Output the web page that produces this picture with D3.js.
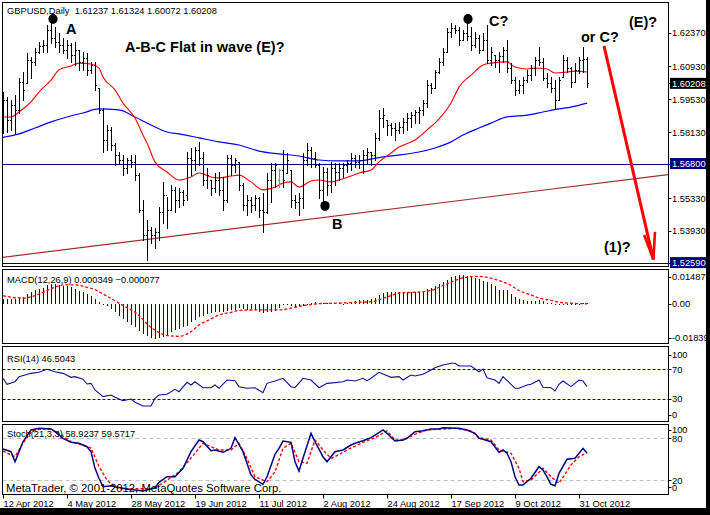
<!DOCTYPE html>
<html><head><meta charset="utf-8">
<script src="https://cdnjs.cloudflare.com/ajax/libs/d3/7.8.5/d3.min.js"></script>
<style>
html,body{margin:0;padding:0;background:#fff;overflow:hidden;}
svg{display:block;}
text{font-family:"Liberation Sans",Arial,sans-serif;white-space:pre;}
</style></head><body>
<svg id="c" width="710" height="515"></svg>
<script>
// ---------- DATA ----------
const dateTickIdx = [0,16,32,48,64,80,96,112,128,144];
const dateTickLabels = ["12 Apr 2012","4 May 2012","28 May 2012","19 Jun 2012","11 Jul 2012","2 Aug 2012","24 Aug 2012","17 Sep 2012","9 Oct 2012","31 Oct 2012"];

const open = [1.5831,1.5950,1.5865,1.5929,1.5908,1.6027,1.6022,1.6120,1.6112,1.6154,
1.6180,1.6184,1.6248,1.6214,1.6197,1.6184,1.6163,1.6184,1.6141,1.6163,
1.6112,1.6129,1.6078,1.6099,1.6001,1.5908,1.5780,1.5823,1.5759,1.5716,
1.5695,1.5661,1.5695,1.5687,1.5631,1.5483,1.5376,1.5398,1.5376,1.5389,
1.5474,1.5546,1.5483,1.5568,1.5525,1.5559,1.5546,1.5704,1.5695,1.5738,
1.5704,1.5610,1.5610,1.5576,1.5610,1.5568,1.5525,1.5704,1.5674,1.5687,
1.5589,1.5504,1.5525,1.5504,1.5534,1.5483,1.5474,1.5610,1.5653,1.5610,
1.5653,1.5640,1.5653,1.5525,1.5517,1.5534,1.5695,1.5738,1.5704,1.5674,
1.5568,1.5644,1.5589,1.5661,1.5644,1.5661,1.5674,1.5682,1.5704,1.5687,
1.5695,1.5716,1.5729,1.5716,1.5789,1.5874,1.5865,1.5844,1.5831,1.5823,
1.5835,1.5857,1.5874,1.5886,1.5899,1.5908,1.5937,1.6014,1.6001,1.6069,
1.6112,1.6154,1.6239,1.6256,1.6248,1.6205,1.6235,1.6222,1.6184,1.6214,
1.6163,1.6205,1.6120,1.6141,1.6120,1.6137,1.6163,1.6086,1.6035,1.5993,
1.6014,1.6035,1.6056,1.6086,1.6120,1.6112,1.6044,1.6022,1.6001,1.5950,
1.6048,1.6120,1.6086,1.6027,1.6078,1.6120,1.61237];
const high = [1.5984,1.5963,1.5950,1.5971,1.6044,1.6069,1.6150,1.6133,1.6171,1.6197,
1.6205,1.6269,1.6311,1.6260,1.6235,1.6214,1.6205,1.6192,1.6197,1.6163,
1.6154,1.6150,1.6112,1.6112,1.6001,1.5916,1.5844,1.5835,1.5767,1.5729,
1.5716,1.5704,1.5716,1.5716,1.5640,1.5525,1.5440,1.5410,1.5406,1.5495,
1.5602,1.5538,1.5589,1.5580,1.5576,1.5568,1.5729,1.5746,1.5750,1.5772,
1.5729,1.5661,1.5610,1.5640,1.5644,1.5623,1.5716,1.5716,1.5704,1.5687,
1.5597,1.5546,1.5538,1.5546,1.5538,1.5555,1.5640,1.5682,1.5682,1.5657,
1.5738,1.5725,1.5653,1.5546,1.5555,1.5725,1.5767,1.5750,1.5729,1.5682,
1.5665,1.5661,1.5687,1.5682,1.5682,1.5682,1.5695,1.5725,1.5716,1.5716,
1.5738,1.5746,1.5729,1.5810,1.5908,1.5916,1.5865,1.5852,1.5852,1.5857,
1.5874,1.5895,1.5899,1.5908,1.5920,1.5950,1.6035,1.6022,1.6078,1.6129,
1.6171,1.6256,1.6277,1.6269,1.6260,1.6248,1.6282,1.6260,1.6239,1.6226,
1.6235,1.6269,1.6175,1.6141,1.6154,1.6175,1.6205,1.6107,1.6048,1.6035,
1.6048,1.6078,1.6099,1.6133,1.6175,1.6129,1.6065,1.6048,1.6035,1.6048,
1.6141,1.6133,1.6090,1.6107,1.6133,1.6175,1.61324];
const low = [1.5810,1.5814,1.5823,1.5810,1.5895,1.5950,1.6022,1.6044,1.6099,1.6150,
1.6154,1.6154,1.6192,1.6175,1.6154,1.6150,1.6129,1.6112,1.6099,1.6078,
1.6078,1.6056,1.6065,1.5993,1.5895,1.5729,1.5738,1.5738,1.5674,1.5682,
1.5631,1.5640,1.5665,1.5610,1.5474,1.5355,1.5270,1.5342,1.5321,1.5355,
1.5427,1.5406,1.5483,1.5474,1.5495,1.5504,1.5525,1.5631,1.5653,1.5674,
1.5589,1.5576,1.5546,1.5559,1.5546,1.5483,1.5517,1.5631,1.5644,1.5568,
1.5483,1.5461,1.5474,1.5483,1.5453,1.5389,1.5470,1.5517,1.5580,1.5580,
1.5580,1.5640,1.5495,1.5491,1.5461,1.5491,1.5674,1.5665,1.5665,1.5534,
1.5517,1.5546,1.5559,1.5589,1.5610,1.5623,1.5644,1.5653,1.5665,1.5661,
1.5640,1.5682,1.5674,1.5695,1.5780,1.5835,1.5801,1.5801,1.5780,1.5810,
1.5810,1.5823,1.5835,1.5852,1.5852,1.5886,1.5920,1.5980,1.6001,1.6065,
1.6099,1.6154,1.6218,1.6235,1.6184,1.6205,1.6205,1.6163,1.6175,1.6150,
1.6163,1.6107,1.6099,1.6090,1.6069,1.6112,1.6069,1.6022,1.5971,1.5980,
1.5980,1.6027,1.6035,1.6056,1.6099,1.6035,1.6005,1.5984,1.5916,1.5950,
1.6048,1.6069,1.6005,1.6027,1.6065,1.6069,1.60072];
const close = [1.5950,1.5865,1.5929,1.5908,1.6027,1.5993,1.6120,1.6112,1.6154,1.6180,
1.6184,1.6248,1.6214,1.6197,1.6184,1.6163,1.6184,1.6141,1.6163,1.6112,
1.6129,1.6078,1.6099,1.6014,1.5908,1.5780,1.5823,1.5759,1.5716,1.5695,
1.5661,1.5695,1.5687,1.5631,1.5483,1.5376,1.5398,1.5376,1.5389,1.5474,
1.5546,1.5483,1.5568,1.5525,1.5559,1.5525,1.5704,1.5695,1.5738,1.5704,
1.5610,1.5631,1.5576,1.5610,1.5568,1.5525,1.5704,1.5674,1.5695,1.5589,
1.5504,1.5525,1.5504,1.5534,1.5483,1.5474,1.5610,1.5653,1.5674,1.5653,
1.5610,1.5695,1.5525,1.5517,1.5534,1.5695,1.5738,1.5704,1.5674,1.5568,
1.5644,1.5589,1.5661,1.5644,1.5661,1.5674,1.5682,1.5704,1.5687,1.5695,
1.5716,1.5729,1.5716,1.5789,1.5874,1.5886,1.5844,1.5831,1.5823,1.5835,
1.5857,1.5874,1.5886,1.5899,1.5908,1.5937,1.6014,1.6001,1.6069,1.6112,
1.6154,1.6239,1.6256,1.6248,1.6205,1.6235,1.6222,1.6184,1.6214,1.6163,
1.6205,1.6120,1.6154,1.6120,1.6137,1.6163,1.6086,1.6035,1.5993,1.6014,
1.6035,1.6056,1.6086,1.6120,1.6112,1.6044,1.6022,1.6001,1.5950,1.6035,
1.6120,1.6086,1.6027,1.6078,1.6120,1.6124,1.60208];
const highlightBar = 69;

// moving averages: [bar index, price]
const maRed = [[0,1.5878],[2,1.5878],[4,1.5899],[7,1.5942],[9,1.5984],[12,1.6035],[14,1.6078],[17,1.6095],[19,1.6107],[22,1.6103],[24,1.6086],[25,1.6048],[28,1.5993],[30,1.5937],[33,1.5874],[35,1.5801],[36,1.5767],[38,1.5687],[41,1.5644],[44,1.5610],[47,1.5623],[49,1.5640],[52,1.5623],[54,1.5619],[57,1.5627],[59,1.5631],[62,1.5602],[65,1.5568],[68,1.5580],[70,1.5597],[72,1.5602],[74,1.5580],[77,1.5606],[79,1.5610],[82,1.5602],[84,1.5610],[87,1.5627],[89,1.5640],[92,1.5653],[94,1.5687],[97,1.5725],[99,1.5750],[103,1.5780],[106,1.5823],[108,1.5852],[112,1.5937],[114,1.6005],[117,1.6056],[120,1.6099],[122,1.6107],[126,1.6112],[128,1.6090],[131,1.6082],[133,1.6086],[136,1.6082],[138,1.6065],[141,1.6069],[143,1.6073],[146,1.6069]];
const maBlue = [[-0.5,1.5790],[4,1.5806],[8,1.5831],[12,1.5857],[16,1.5878],[20,1.5895],[24,1.5912],[29,1.5908],[33,1.5878],[37,1.5844],[41,1.5814],[44,1.5806],[49,1.5789],[54,1.5772],[59,1.5759],[64,1.5733],[69,1.5721],[74,1.5712],[79,1.5695],[84,1.5691],[89,1.5691],[92,1.5699],[95,1.5708],[99,1.5716],[104,1.5729],[108,1.5746],[112,1.5772],[115,1.5801],[119,1.5831],[122,1.5852],[126,1.5878],[131,1.5886],[135,1.5899],[139,1.5912],[142,1.5920],[146,1.5937]];

const priceTicks = [1.62370,1.60930,1.59530,1.58130,1.55330,1.53930];
const hLines = [1.56800,1.52590];
const trendLine = [[-0.25,1.5281],[166.25,1.5633]];

// MACD(12,26,9)
const macdMain = [0.0024,0.0023,0.0023,0.0024,0.0030,0.0033,0.0050,0.0062,0.0073,0.0076,
0.0083,0.0097,0.0102,0.0102,0.0099,0.0094,0.0090,0.0085,0.0076,0.0068,
0.0059,0.0049,0.0038,0.0024,0.0007,-0.0007,-0.0014,-0.0028,-0.0045,-0.0062,
-0.0080,-0.0097,-0.0111,-0.0123,-0.0140,-0.0158,-0.0170,-0.0180,-0.01839,-0.0181,
-0.0175,-0.0163,-0.0149,-0.0137,-0.0132,-0.0123,-0.0114,-0.0097,-0.0083,-0.0071,
-0.0062,-0.0054,-0.0049,-0.0045,-0.0042,-0.0042,-0.0040,-0.0035,-0.0031,-0.0024,
-0.0028,-0.0031,-0.0028,-0.0035,-0.0045,-0.0049,-0.0045,-0.0042,-0.0036,-0.0024,
-0.0007,-0.0002,-0.0014,-0.0019,-0.0014,-0.0010,-0.0007,0.0003,0.0010,0.0002,
0.0003,0.0002,0.0002,0.0003,0.0003,-0.0002,0.0002,0.0009,0.0012,0.0017,
0.0021,0.0021,0.0024,0.0029,0.0045,0.0055,0.0059,0.0059,0.0059,0.0059,
0.0059,0.0059,0.0059,0.0062,0.0062,0.0066,0.0076,0.0080,0.0090,0.0102,
0.0114,0.0125,0.0137,0.0146,0.014877,0.0148,0.0146,0.0137,0.0132,0.0128,
0.0120,0.0111,0.0102,0.0094,0.0073,0.0073,0.0073,0.0050,0.0033,0.0024,
0.0019,0.0016,0.0012,0.0012,0.0017,0.0012,0.0003,0.0002,-0.0002,-0.0007,
-0.0003,-0.0001,-0.0002,-0.0003,-0.0005,0.0002,0.000349];
const macdSignal = [[0,0.0042],[2,0.0033],[5,0.0029],[8,0.0042],[10,0.0059],[13,0.0085],[15,0.0097],[18,0.0097],[21,0.0085],[23,0.0073],[25,0.0050],[28,0.0015],[30,-0.0010],[33,-0.0045],[37,-0.0123],[41,-0.0166],[44,-0.0170],[47,-0.0146],[49,-0.0111],[52,-0.0080],[54,-0.0059],[57,-0.0045],[59,-0.0035],[63,-0.0033],[66,-0.0033],[69,-0.0033],[72,-0.0024],[74,-0.0014],[77,-0.0005],[79,0.0000],[83,0.0002],[89,0.0007],[92,0.0010],[97,0.0042],[99,0.0055],[103,0.0059],[107,0.0068],[109,0.0085],[112,0.0111],[114,0.0128],[117,0.0140],[119,0.0142],[122,0.0132],[124,0.0120],[127,0.0094],[129,0.0068],[132,0.0045],[134,0.0029],[137,0.0017],[139,0.0007],[142,0.0002],[146,-0.000077]];
const macdTicks = [0.014877,0.00,-0.01839];

// RSI(14)
const rsi = [[0,57.7],[1,49.6],[3,53.1],[4,59.9],[7,64.4],[9,65.8],[11,69.9],[13,66.6],[15,64.4],[17,59.0],[18,59.9],[20,56.4],[21,50],[22,50.9],[23,41.9],[25,32.9],[27,35.1],[28,32.0],[30,27.5],[32,29.7],[33,25.3],[35,20.3],[37,20.3],[38,30.7],[39,35.1],[41,36.1],[43,42.8],[44,39.6],[46,52.3],[47,48.6],[48,53.1],[50,45.0],[52,45.0],[53,48.6],[54,44.2],[56,55.4],[58,54.5],[59,46.4],[61,44.2],[63,45.0],[65,38.3],[66,50.9],[68,54],[70,57.7],[72,46.4],[73,45.0],[75,57.7],[77,55.4],[79,45.0],[81,50.9],[83,51.8],[85,53.1],[86,55.4],[88,54.1],[90,57.7],[91,54.5],[92,57.7],[94,65.8],[97,59.0],[99,59.9],[100,55.4],[102,62.2],[103,60.8],[105,63.1],[107,68.9],[108,72.0],[110,75.7],[112,78.0],[113,78.0],[114,74.3],[117,74.3],[119,66.6],[120,70.3],[121,58.5],[123,55.4],[124,50.9],[125,59.9],[127,49.6],[128,44.2],[129,44.2],[131,48.6],[132,49.6],[134,55.4],[135,45.5],[137,45.0],[138,40.5],[139,49.6],[140,54.1],[142,46.4],[144,55.4],[145,54.1],[146,46.5043]];
const rsiLevels = [70,30];
const rsiTicks = [100,70,30,0];

// Stochastic(21,3,3)
const stochK = [[0,64.7],[2,60.9],[3,46.6],[4,60.9],[5,75],[7,92],[9,94.3],[12,93.3],[13,89.4],[15,80],[17,74.3],[19,72.9],[21,68],[22,60.9],[23,37.1],[24,22.9],[25,10.9],[27,12.3],[28,10.9],[31,7.6],[33,6.1],[35,4.7],[38,9.4],[39,17.1],[41,25.1],[43,25.1],[45,37.1],[47,60.9],[49,77.6],[50,75.1],[52,62.3],[53,63.3],[55,60],[57,65.7],[58,80.9],[60,60.9],[62,27.6],[63,21.4],[65,14.3],[66,25.1],[68,57.1],[69,65.7],[70,76.1],[72,74.3],[73,46.6],[74,33.3],[75,51.4],[77,87.1],[78,75.1],[80,53.7],[81,46.6],[83,60.9],[85,63.3],[87,70.4],[88,72.9],[90,76.6],[92,80.9],[93,84.7],[95,91.9],[96,87.1],[98,76.1],[100,77.6],[101,80],[103,89.4],[105,90.9],[107,93.3],[109,93.3],[110,95.1],[113,94.3],[114,94.3],[116,91.9],[118,87.1],[119,80],[120,78.6],[122,75.1],[124,60],[125,63.3],[126,58.6],[127,46.6],[128,25.1],[129,13.3],[130,13.3],[132,22.9],[134,39.4],[135,34.7],[136,25],[137,14.3],[138,12.3],[139,30],[141,50],[143,51.4],[145,65.7],[146,58.9237]];
const stochD = [[0,62],[2,56],[3,53.7],[5,72.9],[7,89],[9,93],[12,93],[14,87],[17,75],[20,70],[22,66],[24,40],[26,20.5],[27,15],[29,8],[37,8],[38,8.9],[41,20],[44,32],[48,58.6],[50,72.9],[52,68],[54,63.3],[57,63.3],[59,72.9],[61,51],[63,25],[66,18],[68,32],[70,65.7],[72,72.9],[74,46.6],[76,44.3],[78,77.6],[80,63.3],[82,51.4],[83,53.7],[86,63.3],[89,71.4],[90,74.3],[93,80.9],[96,90.5],[98,77.6],[100,77.6],[103,85.7],[106,91.9],[110,93.3],[113,94.3],[117,90.5],[119,80.9],[122,77.6],[124,63.3],[127,58.6],[129,37.1],[130,18],[132,20.5],[135,37.1],[137,25.1],[139,15.7],[142,41.9],[144,53.7],[146,59.5717]];
const stochLevels = [80,20];
const stochTicks = [100,80,20,0];

// annotations: [bar index, price]
const labels = [
  {t:"A", i:15.75, p:1.6231},
  {t:"A-B-C Flat in wave (E)?", i:30.5, p:1.6152},
  {t:"C?", i:121.5, p:1.6265},
  {t:"(E)?", i:156.5, p:1.6260},
  {t:"or C?", i:144.5, p:1.6197},
  {t:"B", i:82.25, p:1.5402},
  {t:"(1)?", i:150.25, p:1.5304}
];
const dots = [[12.5,1.6294],[116.25,1.6294],[80.5,1.5500]];
const arrowLine = [[150.25,1.6180],[162.6,1.5272]];
const arrowHead = [[160.3,1.5376],[162.6,1.5272],[163.0,1.5390]];

// ---------- DRAW ----------
const svg = d3.select("#c");
const N = close.length;
const L = 2.5, R = 668.5;
const P = {main:[2.5,266.5], macd:[269.5,343.5], rsi:[346.5,421.5], stoch:[424.5,494.5]};
const x = d3.scaleLinear().domain([0,146]).range([3,587]);
const yP = d3.scaleLinear().domain([1.5259,1.6237]).range([262.6,32.5]);
const yM = d3.scaleLinear().domain([-0.01839,0.014877]).range([339,275]);
const yR = d3.scaleLinear().domain([0,100]).range([421,347]);
const yS = d3.scaleLinear().domain([0,100]).range([494.3,424.3]);
const f5 = d3.format(".5f"), f6 = d3.format(".6f"), f4 = d3.format(".4f");
const FS = 9.3;

svg.append("rect").attr("width",710).attr("height",515).attr("fill","#fff");
const defs = svg.append("defs");
Object.entries(P).forEach(([k,[t,b]])=>{
  defs.append("clipPath").attr("id","clip-"+k).append("rect")
    .attr("x",L+0.5).attr("y",t+0.5).attr("width",R-L-1).attr("height",b-t-1);
});
const gMain = svg.append("g").attr("clip-path","url(#clip-main)");
const gMacd = svg.append("g").attr("clip-path","url(#clip-macd)");
const gRsi = svg.append("g").attr("clip-path","url(#clip-rsi)");
const gSto = svg.append("g").attr("clip-path","url(#clip-stoch)");

// horizontal lines & trend line
hLines.forEach(v=>{
  gMain.append("line").attr("x1",L).attr("x2",R).attr("y1",Math.round(yP(v))+0.5).attr("y2",Math.round(yP(v))+0.5)
    .attr("stroke","#000080").attr("stroke-width",1);
});
gMain.append("line").attr("x1",x(trendLine[0][0])).attr("y1",yP(trendLine[0][1]))
  .attr("x2",x(trendLine[1][0])).attr("y2",yP(trendLine[1][1]))
  .attr("stroke","#a52a2a").attr("stroke-width",1.2);

// moving averages
const lineMain = d3.line().x(d=>x(d[0])).y(d=>yP(d[1])).curve(d3.curveMonotoneX);
gMain.append("path").attr("d",lineMain(maBlue)).attr("fill","none").attr("stroke","#0000ff").attr("stroke-width",1.2);
gMain.append("path").attr("d",lineMain(maRed)).attr("fill","none").attr("stroke","#ff0000").attr("stroke-width",1.1);

// OHLC bars
const bars = gMain.append("g").attr("shape-rendering","crispEdges");
d3.range(N).forEach(i=>{
  const cx = Math.round(x(i));
  const col = i===highlightBar ? "#00dd00" : "#000";
  const yh = Math.round(yP(high[i])), yl = Math.round(yP(low[i]));
  bars.append("rect").attr("x",cx).attr("y",yh).attr("width",1).attr("height",Math.max(1,yl-yh+1)).attr("fill",col);
  bars.append("rect").attr("x",cx-1).attr("y",Math.round(yP(open[i]))).attr("width",1).attr("height",1).attr("fill",col);
  bars.append("rect").attr("x",cx+1).attr("y",Math.round(yP(close[i]))).attr("width",1).attr("height",1).attr("fill",col);
});

// annotations
dots.forEach(d=>gMain.append("ellipse").attr("cx",x(d[0])).attr("cy",yP(d[1])).attr("rx",4.6).attr("ry",5).attr("fill","#000"));
labels.forEach(d=>gMain.append("text").attr("x",x(d.i)).attr("y",yP(d.p)).text(d.t)
  .attr("font-size",14.5).attr("font-weight","bold").attr("fill","#000"));
const lineXY = d3.line().x(d=>x(d[0])).y(d=>yP(d[1]));
gMain.append("path").attr("d",lineXY(arrowLine)).attr("stroke","#ff0000").attr("stroke-width",3).attr("fill","none");
gMain.append("path").attr("d",lineXY(arrowHead)).attr("stroke","#ff0000").attr("stroke-width",2.6).attr("fill","none").attr("stroke-linejoin","miter");

// MACD
const hg = gMacd.append("g").attr("shape-rendering","crispEdges");
macdMain.forEach((v,i)=>{
  const y0 = Math.round(yM(0)), y1 = Math.round(yM(v));
  hg.append("rect").attr("x",Math.round(x(i))).attr("y",Math.min(y0,y1)).attr("width",1)
    .attr("height",Math.max(1,Math.abs(y1-y0))).attr("fill","#000080");
});
gMacd.append("path").attr("d",d3.line().x(d=>x(d[0])).y(d=>yM(d[1])).curve(d3.curveMonotoneX)(macdSignal))
  .attr("fill","none").attr("stroke","#ff0000").attr("stroke-width",1.3).attr("stroke-dasharray","3,2");

// RSI
rsiLevels.forEach(v=>gRsi.append("line").attr("x1",L).attr("x2",R).attr("y1",Math.round(yR(v))+0.5).attr("y2",Math.round(yR(v))+0.5)
  .attr("stroke","#0000a0").attr("stroke-dasharray","3,2").attr("stroke-width",1));
gRsi.append("path").attr("d",d3.line().x(d=>x(d[0])).y(d=>yR(d[1]))(rsi))
  .attr("fill","none").attr("stroke","#101090").attr("stroke-width",1.1);

// Stochastic
stochLevels.forEach(v=>gSto.append("line").attr("x1",L).attr("x2",R).attr("y1",Math.round(yS(v))+0.5).attr("y2",Math.round(yS(v))+0.5)
  .attr("stroke","#c0c0c0").attr("stroke-dasharray","4,3").attr("stroke-width",1));
gSto.append("path").attr("d",d3.line().x(d=>x(d[0])).y(d=>yS(d[1]))(stochD))
  .attr("fill","none").attr("stroke","#ff0000").attr("stroke-width",1.4).attr("stroke-dasharray","3,2");
gSto.append("path").attr("d",d3.line().x(d=>x(d[0])).y(d=>yS(d[1]))(stochK))
  .attr("fill","none").attr("stroke","#000080").attr("stroke-width",1.5);

// panel frames
Object.values(P).forEach(([t,b])=>{
  svg.append("rect").attr("x",L).attr("y",t).attr("width",R-L).attr("height",b-t)
    .attr("fill","none").attr("stroke","#000").attr("stroke-width",1).attr("shape-rendering","crispEdges");
});

// right axes
function rightLabel(y,txt,box,bg){
  svg.append("line").attr("x1",R).attr("x2",R+3).attr("y1",Math.round(y)+0.5).attr("y2",Math.round(y)+0.5).attr("stroke","#000");
  if(box){
    svg.append("rect").attr("x",670).attr("y",y-5.5).attr("width",38).attr("height",11).attr("fill",bg);
  }
  svg.append("text").attr("x",672).attr("y",y+3.4).attr("font-size",FS).attr("fill",box?"#fff":"#000").text(txt);
}
priceTicks.forEach(v=>rightLabel(yP(v),f5(v),false));
hLines.forEach(v=>rightLabel(yP(v),f5(v),true,"#000080"));
rightLabel(yP(close[N-1]),f5(close[N-1]),true,"#000");

const clamp=(v,a,b)=>Math.max(a,Math.min(b,v));
macdTicks.forEach(v=>rightLabel(clamp(yM(v),277,337.5), v===0?"0.00":(v>0?f6(v):"-"+d3.format(".5f")(-v)), false));
rsiTicks.forEach(v=>rightLabel(clamp(yR(v),355,415), String(v), false));
stochTicks.forEach(v=>rightLabel(clamp(yS(v),430,487.3), String(v), false));

// date axis
dateTickIdx.forEach((idx,k)=>{
  const xx = Math.round(x(idx))+0.5;
  svg.append("line").attr("x1",xx).attr("x2",xx).attr("y1",P.stoch[1]).attr("y2",P.stoch[1]+4).attr("stroke","#000");
  svg.append("text").attr("x",xx).attr("y",507).attr("font-size",FS).attr("fill","#000").text(dateTickLabels[k]);
});

// titles
svg.append("text").attr("x",7).attr("y",14).attr("font-size",FS)
  .text(`GBPUSD,Daily  ${f5(open[N-1])} ${f5(high[N-1])} ${f5(low[N-1])} ${f5(close[N-1])}`);
const sigLast = macdSignal[macdSignal.length-1][1];
svg.append("text").attr("x",7).attr("y",283).attr("font-size",FS)
  .text(`MACD(12,26,9) ${f6(macdMain[N-1])} ${f6(sigLast)}`);
svg.append("text").attr("x",7).attr("y",362).attr("font-size",FS)
  .text(`RSI(14) ${f4(rsi[rsi.length-1][1])}`);
svg.append("text").attr("x",7).attr("y",436.5).attr("font-size",FS)
  .text(`Stoch(21,3,3) ${f4(stochK[stochK.length-1][1])} ${f4(stochD[stochD.length-1][1])}`);
svg.append("text").attr("x",6).attr("y",492).attr("font-size",11.3)
  .text("MetaTrader, © 2001-2012, MetaQuotes Software Corp.");

// window border
svg.append("rect").attr("x",706).attr("y",0).attr("width",4).attr("height",515).attr("fill","#000");
svg.append("rect").attr("x",0).attr("y",508).attr("width",710).attr("height",7).attr("fill","#000");
</script>
</body></html>
